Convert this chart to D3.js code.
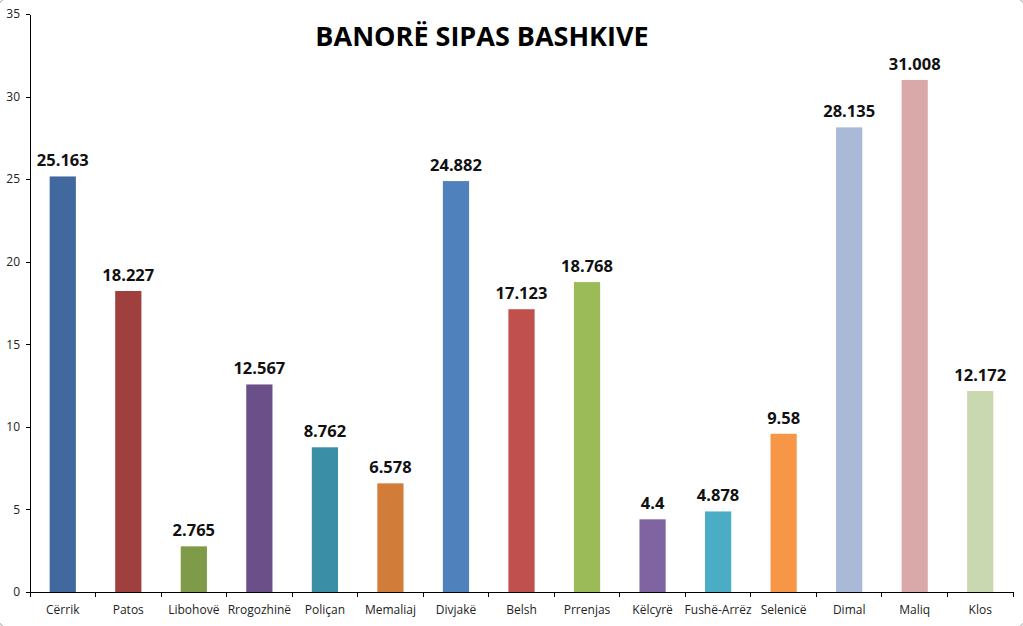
<!DOCTYPE html>
<meta charset="utf-8">
<style>
body { margin: 0; background: #fff; }
svg { display: block; }
.axis text { font-family: "Open Sans", Lato, sans-serif; font-size: 12px; fill: #222; }
.axis path, .axis line { stroke: #000; stroke-width: 1px; shape-rendering: crispEdges; }
.value { font-family: "Open Sans", sans-serif; font-weight: bold; font-size: 16.5px; fill: #111; }
.title { font-family: "Open Sans", sans-serif; font-weight: bold; font-size: 27px; fill: #000; }
</style>
<body>
<script src="https://cdn.jsdelivr.net/npm/d3@7"></script>
<script>

var width = 1023,
    height = 626;

// data
var bashkite = ["Cërrik", "Patos", "Libohovë", "Rrogozhinë", "Poliçan", "Memaliaj", "Divjakë",
                "Belsh", "Prrenjas", "Këlcyrë", "Fushë-Arrëz", "Selenicë", "Dimal", "Maliq", "Klos"];
var banore = [25.163, 18.227, 2.765, 12.567, 8.762, 6.578, 24.882,
              17.123, 18.768, 4.4, 4.878, 9.58, 28.135, 31.008, 12.172];
var ngjyrat = ["#41699d", "#9f403e", "#7f9a48", "#6a4f89", "#3a8ea6", "#d17c38", "#4f81bd",
               "#c0504d", "#9bbb59", "#8064a2", "#4bacc6", "#f79646", "#aab9d7", "#d9a9a9", "#c9d8b1"];
var yTicks = [0, 5, 10, 15, 20, 25, 30, 35];

var margin = {left: 30, right: 10, top: 14, bottom: 34};

var svg = d3.select("body").append("svg")
    .attr("width", width)
    .attr("height", height);

// chart border, rounded corners mostly off-screen
svg.append("rect")
    .attr("x", -3).attr("y", -3)
    .attr("width", width + 6).attr("height", height + 6)
    .attr("rx", 14)
    .attr("fill", "none")
    .attr("stroke", "#a0a0a0");

var x = d3.scaleBand()
    .domain(bashkite)
    .range([margin.left, width - margin.right])
    .padding(0);

var y = d3.scaleLinear()
    .domain([0, 35])
    .range([height - margin.bottom, margin.top]);

var barW = x.bandwidth() * 0.4;

var data = bashkite.map(function(b, i) { return {name: b, value: banore[i], color: ngjyrat[i]}; });

svg.selectAll("rect.bar")
    .data(data)
  .enter().append("rect")
    .attr("class", "bar")
    .attr("x", function(d) { return x(d.name) + (x.bandwidth() - barW) / 2; })
    .attr("y", function(d) { return y(d.value); })
    .attr("width", barW)
    .attr("height", function(d) { return y(0) - y(d.value); })
    .attr("fill", function(d) { return d.color; });

svg.selectAll("text.value")
    .data(data)
  .enter().append("text")
    .attr("class", "value")
    .attr("text-anchor", "middle")
    .attr("x", function(d) { return x(d.name) + x.bandwidth() / 2; })
    .attr("y", function(d) { return y(d.value) - 10; })
    .text(function(d) { return String(d.value); });

// y axis
var yAxis = svg.append("g")
    .attr("class", "axis")
    .attr("transform", "translate(" + margin.left + ",0)")
    .call(d3.axisLeft(y).tickValues(yTicks).tickSize(4).tickSizeOuter(0).tickPadding(6));

// x axis with ticks between categories
var xg = svg.append("g")
    .attr("class", "axis")
    .attr("transform", "translate(0," + y(0) + ")");
xg.append("line")
    .attr("x1", margin.left).attr("x2", width - margin.right)
    .attr("y1", 0).attr("y2", 0);
xg.selectAll("line.tick")
    .data(bashkite.concat(["_end"]))
  .enter().append("line")
    .attr("class", "tick")
    .attr("x1", function(d, i) { return margin.left + i * x.step(); })
    .attr("x2", function(d, i) { return margin.left + i * x.step(); })
    .attr("y1", 0).attr("y2", 5);
xg.selectAll("text")
    .data(bashkite)
  .enter().append("text")
    .attr("text-anchor", "middle")
    .attr("x", function(d) { return x(d) + x.bandwidth() / 2; })
    .attr("y", 22)
    .text(function(d) { return d; });

svg.append("text")
    .attr("class", "title")
    .attr("text-anchor", "middle")
    .attr("x", 482)
    .attr("y", 46)
    .text("BANORË SIPAS BASHKIVE");

</script>
